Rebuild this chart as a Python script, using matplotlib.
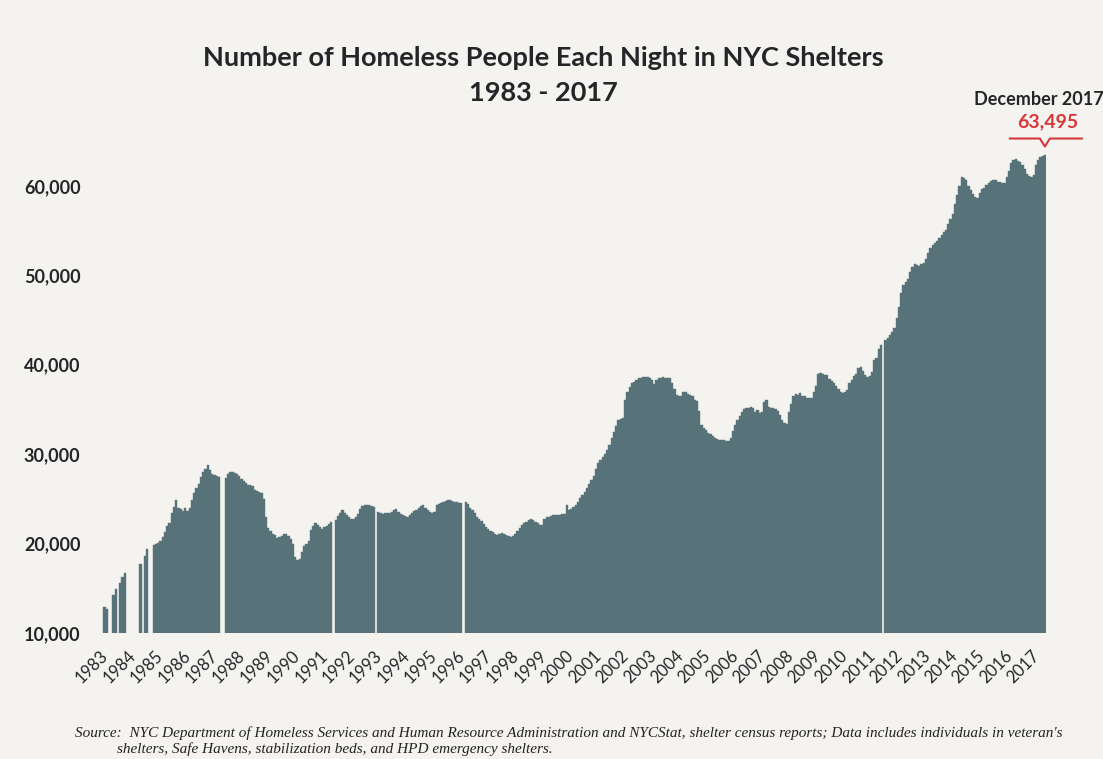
import numpy as np
import matplotlib
matplotlib.use("Agg")
from matplotlib import pyplot as plt
from matplotlib import transforms as mtrans

# Monthly shelter census, Jan 1983 - Dec 2017 (None = no report that month)
counts_1980s = [
    # 1983
    12900, 12700, None, None, 14250, 14900, None, 15600, 16300, 16700, None, None,
    # 1984
    None, None, None, None, 17700, None, 18600, 19400, None, None, 19850, 19900,
    # 1985
    20100, 20300, 20700, 21300, 22000, 22300, 23400, 24100, 24900, 24000, 23900, 23600,
    # 1986
    23950, 23600, 23950, 24900, 25600, 26200, 26700, 27400, 28000, 28300, 28800, 28200,
    # 1987
    27800, 27700, 27500, 27400, None, None, 27300, 27800, 27950, 27950, 27900, 27800,
    # 1988
    27500, 27200, 27000, 26800, 26600, 26550, 26400, 26000, 25900, 25800, 25600, 25000,
    # 1989
    23000, 21700, 21350, 21100, 20950, 20650, 20750, 20900, 21050, 21050, 20900, 20500,
]
counts_1990s = [
    # 1990
    19900, 18500, 18200, 18300, 19100, 19700, 20000, 20300, 21500, 22000, 22350, 22100,
    # 1991
    21900, 21600, 21800, 22000, 22150, 22400, None, 22650, 23100, 23400, 23700, 23400,
    # 1992
    23200, 23000, 22750, 22800, 23000, 23300, 23900, 24200, 24350, 24350, 24300, 24150,
    # 1993
    24100, None, 23550, 23450, 23300, 23400, 23450, 23400, 23550, 23700, 23850, 23500,
    # 1994
    23300, 23200, 23100, 22950, 23200, 23450, 23600, 23800, 23950, 24200, 24300, 23950,
    # 1995
    23700, 23500, 23400, 23550, 24300, 24400, 24500, 24600, 24750, 24850, 24880, 24800,
    # 1996
    24700, 24600, 24580, 24550, None, 24700, 24400, 24000, 23700, 23400, 23000, 22700,
    # 1997
    22500, 22200, 21900, 21600, 21400, 21300, 21100, 21000, 21050, 21150, 21050, 20950,
    # 1998
    20850, 20750, 20800, 21050, 21350, 21700, 22100, 22300, 22450, 22650, 22800, 22650,
    # 1999
    22450, 22300, 22100, 22100, 22800, 22950, 23000, 23100, 23150, 23200, 23200, 23200,
]
counts_2000s = [
    # 2000
    23250, 23300, 24300, 23800, 23900, 24100, 24350, 24700, 25100, 25400, 25800, 26200,
    # 2001
    26700, 27100, 27600, 28300, 29000, 29300, 29700, 30000, 30500, 31000, 31800, 32500,
    # 2002
    33100, 33800, 33900, 34000, 36000, 37000, 37500, 37900, 38100, 38300, 38500, 38550,
    # 2003
    38600, 38650, 38650, 38500, 38300, 37800, 38300, 38500, 38500, 38600, 38550, 38550,
    # 2004
    38500, 38000, 37300, 36600, 36500, 36450, 36900, 36900, 36700, 36650, 36450, 36050,
    # 2005
    35900, 34800, 33300, 32900, 32700, 32350, 32200, 32050, 31800, 31670, 31620, 31600,
    # 2006
    31600, 31500, 31420, 31800, 32600, 33300, 33800, 34300, 34700, 35000, 35150, 35200,
    # 2007
    35250, 35200, 34700, 34900, 34600, 34700, 35800, 36000, 35300, 35150, 35100, 35030,
    # 2008
    34800, 34400, 33800, 33500, 33400, 34700, 35600, 36500, 36700, 36650, 36800, 36500,
    # 2009
    36450, 36300, 36250, 36260, 37000, 37600, 39000, 39100, 39000, 38900, 38800, 38400,
]
counts_2010s = [
    # 2010
    38200, 37900, 37600, 37300, 37000, 36800, 36900, 37200, 37900, 38300, 38700, 39000,
    # 2011
    39600, 39700, 39300, 38900, 38600, 38700, 39200, 40500, 40700, 41800, 42200, None,
    # 2012
    42800, 43000, 43300, 43700, 44100, 45200, 46500, 48000, 48900, 49200, 49600, 50400,
    # 2013
    50900, 51200, 51100, 51000, 51200, 51400, 51800, 52500, 53000, 53400, 53600, 53800,
    # 2014
    54200, 54500, 54800, 55100, 55700, 56300, 56800, 58000, 59000, 60000, 61000, 60900,
    # 2015
    60700, 60000, 59500, 59100, 58700, 58600, 59200, 59600, 59800, 60100, 60300, 60500,
    # 2016
    60700, 60650, 60450, 60400, 60350, 60350, 61000, 61700, 62500, 62900, 62950, 62800,
    # 2017
    62700, 62300, 61900, 61300, 61100, 61000, 61200, 62300, 62900, 63200, 63300, 63495,
]
years = list(range(1983, 2018))
y_ticks = [10000, 20000, 30000, 40000, 50000, 60000]
last_label = "December 2017"

counts = np.array(counts_1980s + counts_1990s + counts_2000s + counts_2010s, dtype=float)
months = np.arange(len(counts))

bg = "#F5F3EF"
bar_color = "#577278"
red = "#D8373A"
dark = "#232629"

fig = plt.figure(figsize=(11.03, 7.59), dpi=100, facecolor=bg)
ax = fig.add_axes([100 / 1103, 126 / 759, 946 / 1103, 483 / 759])
ax.set_facecolor(bg)

ax.bar(months, counts, width=1.0, color=bar_color, edgecolor=bar_color, linewidth=0.3)

ax.set_xlim(-0.5, len(counts) - 0.5)
ax.set_ylim(10000, 64000)
for s in ax.spines.values():
    s.set_visible(False)

ax.set_yticks(y_ticks)
ax.set_yticklabels([f"{v:,}" for v in y_ticks], fontfamily="Lato", fontweight="bold",
                   fontsize=13, color=dark)
ax.tick_params(axis="y", length=0, pad=14)

# one label per year, spread evenly along the axis like the original
ax.set_xticks(np.linspace(-2, 413, len(years)))
ax.set_xticklabels([str(y) for y in years], rotation=45, ha="right", va="top",
                   rotation_mode="anchor", fontfamily="Lato", fontsize=12, color=dark)
ax.tick_params(axis="x", length=0, pad=10.5)

fig.text(0.493, 0.923, "Number of Homeless People Each Night in NYC Shelters",
         ha="center", va="center", fontfamily="Lato", fontweight="bold", fontsize=19.5, color=dark)
fig.text(0.493, 0.877, "1983 - 2017", ha="center", va="center", fontfamily="Lato",
         fontweight="bold", fontsize=19.5, color=dark)

# callout above the last bar
last_x, last_y = months[-1], counts[-1]
ax.annotate(last_label, xy=(last_x, last_y), xytext=(-6, 55), textcoords="offset pixels",
            ha="center", va="center", fontfamily="Lato", fontweight="bold", fontsize=13,
            color=dark, annotation_clip=False)
ax.annotate(f"{int(last_y):,}", xy=(last_x, last_y), xytext=(3, 33), textcoords="offset pixels",
            ha="center", va="center", fontfamily="Lato", fontweight="bold", fontsize=14,
            color=red, annotation_clip=False)
pix = fig.dpi_scale_trans + mtrans.ScaledTranslation(last_x, last_y, ax.transData)
ax.plot(np.array([-35, -5, 0, 5, 37]) / 100, np.array([16, 16, 8, 16, 16]) / 100,
        color=red, lw=1.5, transform=pix, clip_on=False)

fig.text(0.068, 0.034, "Source:  NYC Department of Homeless Services and Human Resource Administration and NYCStat, shelter census reports; Data includes individuals in veteran's",
         fontfamily="Liberation Serif", style="italic", fontsize=11, color="#222222", va="center")
fig.text(0.106, 0.013, "shelters, Safe Havens, stabilization beds, and HPD emergency shelters.",
         fontfamily="Liberation Serif", style="italic", fontsize=11, color="#222222", va="center")

fig.savefig("out.png", dpi=100, facecolor=bg)
